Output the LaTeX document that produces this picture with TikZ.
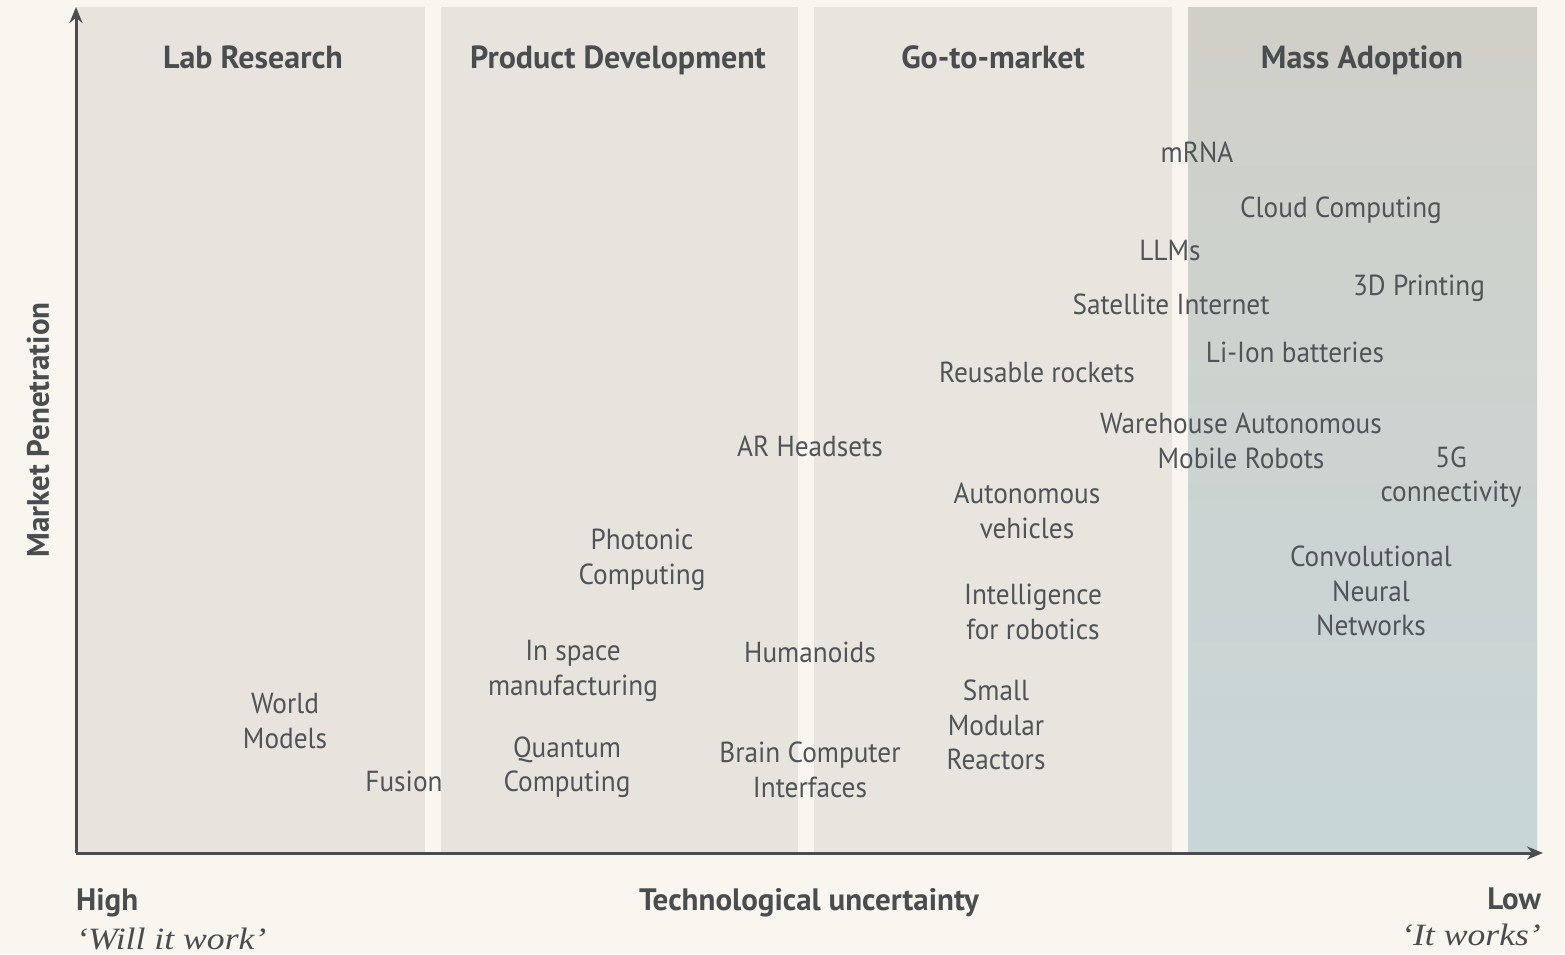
\documentclass[tikz,border=0pt]{standalone}
\usepackage{fontspec}
\setmainfont{PT Sans}[FakeStretch=0.94]
\newfontfamily\boldfont{PT Sans Bold}
\newfontfamily\quotefont{Liberation Serif Italic}[FakeStretch=1.15]
\usetikzlibrary{arrows.meta}
\definecolor{bg}{HTML}{F8F6EF}
\definecolor{labpanel}{HTML}{E8E3DC}
\definecolor{prodpanel}{HTML}{E6E4DD}
\definecolor{gopanel}{HTML}{E7E5DD}
\definecolor{masstop}{HTML}{D0D0C8}
\definecolor{massbot}{HTML}{C8D6D8}
\definecolor{ink}{HTML}{4A4D50}
\definecolor{lblink}{HTML}{505458}
\tikzset{
  title/.style={font=\boldfont\fontsize{32}{36}\selectfont, text=ink, inner sep=0pt, anchor=base},
  lbl/.style={font=\fontsize{29}{34.5}\selectfont, text=lblink, align=center, inner sep=0pt},
  axislbl/.style={font=\boldfont\fontsize{31}{35}\selectfont, text=ink, inner sep=0pt},
  quote/.style={font=\quotefont\fontsize{31}{35}\selectfont, text=ink, inner sep=0pt},
  axis/.style={draw=ink, line width=3pt, -{Stealth[length=16pt,width=13pt]}},
}
\begin{document}
\begin{tikzpicture}[x=1pt,y=-1pt]
\useasboundingbox (0,0) rectangle (1565,954);
\fill[bg] (0,0) rectangle (1565,954);
% panels
\fill[labpanel] (76,7) rectangle (425,853);
\fill[prodpanel] (441,7) rectangle (798,853);
\fill[gopanel] (814,7) rectangle (1172,853);
\shade[top color=masstop, bottom color=massbot] (1188,7) rectangle (1537,853);
% titles
\node[title] (tlab) at (253,68) {Lab Research};
\node[title] (tprod) at (618,68) {Product Development};
\node[title] (tgo) at (993,68) {Go-to-market};
\node[title] (tmass) at (1362,68) {Mass Adoption};
% labels
\node[lbl] (mrna) at (1197,152) {mRNA};
\node[lbl] (cloud) at (1341,210) {Cloud Computing};
\node[lbl] (llm) at (1170,251) {LLMs};
\node[lbl] (print) at (1419,288) {3D Printing};
\node[lbl] (sat) at (1171,304) {Satellite Internet};
\node[lbl] (liion) at (1295,352) {Li-Ion batteries};
\node[lbl] (rock) at (1037,372) {Reusable rockets};
\node[lbl] (wamr) at (1241,441) {Warehouse Autonomous\\Mobile Robots};
\node[lbl] (fiveg) at (1451,477) {5G\\connectivity};
\node[lbl] (ar) at (810,446) {AR Headsets};
\node[lbl] (av) at (1027,511) {Autonomous\\vehicles};
\node[lbl] (cnn) at (1371,591) {Convolutional\\Neural\\Networks};
\node[lbl] (phot) at (642,560) {Photonic\\Computing};
\node[lbl] (irob) at (1033,612) {Intelligence\\for robotics};
\node[lbl] (space) at (573,671) {In space\\manufacturing};
\node[lbl] (hum) at (810,652) {Humanoids};
\node[lbl] (smr) at (996,725) {Small\\Modular\\Reactors};
\node[lbl] (world) at (285,721) {World\\Models};
\node[lbl] (fus) at (404,781) {Fusion};
\node[lbl] (quant) at (567,767) {Quantum\\Computing};
\node[lbl] (bci) at (810,770) {Brain Computer\\Interfaces};
% axes
\coordinate (orig) at (76,853);
\coordinate (ytop) at (76,7);
\coordinate (xend) at (1543,853);
\draw[axis] (orig) -- (ytop);
\draw[axis] (orig) -- (xend);
% axis labels
\node[axislbl, rotate=90] (ylab) at (38,430) {Market Penetration};
\node[axislbl] (xlab) at (809,903) {Technological uncertainty};
\node[axislbl, anchor=west] (high) at (76,903) {High};
\node[axislbl, anchor=east] (low) at (1541,899) {Low};
\node[quote, anchor=west] (will) at (76,939) {‘Will it work’};
\node[quote, anchor=east] (works) at (1541,935) {‘It works’};
\end{tikzpicture}
\end{document}
